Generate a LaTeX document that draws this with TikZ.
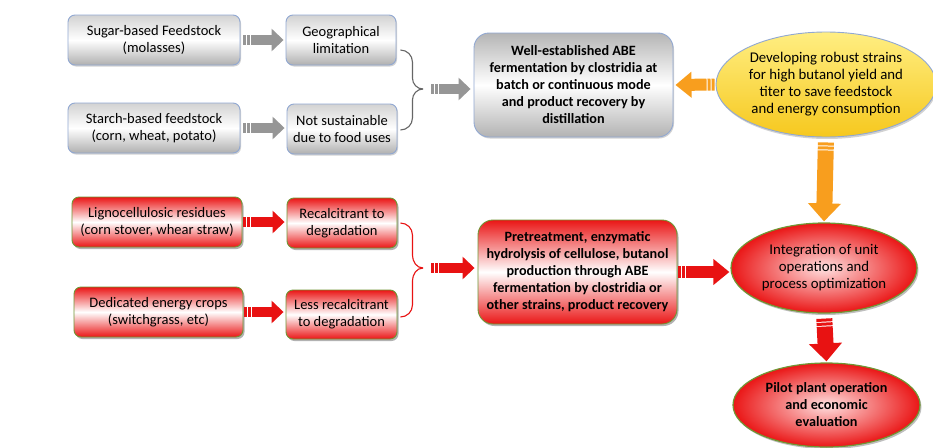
\documentclass[tikz,border=0pt]{standalone}
\usepackage{fontspec}
\setmainfont{Carlito}
\usetikzlibrary{arrows.meta,shapes.geometric,shadows,calc}

\definecolor{boxblue}{RGB}{145,168,210}
\definecolor{boxgreen}{RGB}{112,150,52}
\definecolor{redfill}{RGB}{234,22,22}
\definecolor{yellowtop}{RGB}{255,238,130}
\definecolor{yellowbot}{RGB}{246,200,30}
\definecolor{arrowgrey}{RGB}{150,150,150}
\definecolor{arroworange}{RGB}{248,158,30}
\definecolor{arrowred}{RGB}{232,18,18}

\begin{document}
\begin{tikzpicture}[
    x=1pt, y=1pt,
    % box styles
    greybox/.style={
        draw=boxblue,
        line width=0.9pt,
        rounded corners=7pt,
        top color=gray!35,
        bottom color=gray!62,
        middle color=white,
        align=center,
        inner sep=0pt,
        font=\fontsize{14.5}{17}\selectfont,
        drop shadow={shadow xshift=1pt, shadow yshift=-1.5pt, opacity=0.35}
    },
    redbox/.style={
        draw=boxgreen,
        line width=0.9pt,
        rounded corners=7pt,
        top color=redfill,
        bottom color=redfill,
        middle color=white,
        align=center,
        inner sep=0pt,
        font=\fontsize{14.5}{17}\selectfont,
        drop shadow={shadow xshift=1.5pt, shadow yshift=-2pt, opacity=0.6}
    },
    bigbox/.style={rounded corners=15pt, font=\bfseries\fontsize{14.2}{17}\selectfont},
    yellowoval/.style={
        ellipse,
        draw=boxblue,
        line width=0.9pt,
        top color=yellowtop,
        bottom color=yellowbot,
        align=center,
        inner sep=0pt,
        font=\fontsize{14.8}{17}\selectfont,
        drop shadow={shadow xshift=1pt, shadow yshift=-2pt, opacity=0.35}
    },
    redoval/.style={
        ellipse,
        draw=boxgreen,
        line width=1.2pt,
        inner color=red!12,
        outer color=redfill,
        align=center,
        inner sep=0pt,
        font=\bfseries\fontsize{14.2}{17}\selectfont,
        drop shadow={shadow xshift=1.5pt, shadow yshift=-2pt, opacity=0.5}
    },
    % block arrow styles
    arrowS/.style={line width=10pt, -{Triangle[width=22pt,length=12pt]},
        dash pattern=on 3pt off 1pt on 3pt off 1pt on 500pt},
    arrowM/.style={line width=12pt, -{Triangle[width=25pt,length=16pt]},
        dash pattern=on 3pt off 1pt on 3pt off 1pt on 500pt},
    arrowL/.style={line width=16pt, -{Triangle[width=32pt,length=18pt]},
        dash pattern=on 3pt off 1pt on 3pt off 1pt on 500pt},
    brace/.style={line width=1.1pt}
    ]

    \path[use as bounding box, fill=white] (0,0) rectangle (933,-447);

    % first generation feedstocks (grey)
    \node[greybox, minimum width=172pt, minimum height=50pt] (sugar) at (154,-40) {Sugar-based Feedstock\\(molasses)};
    \node[greybox, minimum width=110pt, minimum height=50pt] (geo) at (341,-40) {Geographical\\limitation};
    \node[greybox, minimum width=172pt, minimum height=50pt] (starch) at (154,-128) {Starch-based feedstock\\(corn, wheat, potato)};
    \node[greybox, minimum width=110pt, minimum height=50pt] (food) at (342,-129) {Not sustainable\\due to food uses};
    \node[greybox, bigbox, top color=gray!58, bottom color=gray!60, middle color=white,
        minimum width=199pt, minimum height=104pt] (abe) at (573.5,-85)
        {Well-established ABE\\fermentation by clostridia at\\batch or continuous mode\\and product recovery by\\distillation};
    \node[yellowoval, minimum width=220pt, minimum height=105pt] (strain) at (826,-84.5)
        {Developing robust strains\\for high butanol yield and\\titer to save feedstock\\and energy consumption};

    % lignocellulosic feedstocks (red)
    \node[redbox, minimum width=170pt, minimum height=50pt] (ligno) at (157,-222) {Lignocellulosic residues\\(corn stover, whear straw)};
    \node[redbox, minimum width=110pt, minimum height=50pt] (recal) at (342,-223) {Recalcitrant to\\degradation};
    \node[redbox, minimum width=169pt, minimum height=50pt] (crops) at (158.5,-312) {Dedicated energy crops\\(switchgrass, etc)};
    \node[redbox, minimum width=111pt, minimum height=49pt] (less) at (341.5,-314.5) {Less recalcitrant\\to degradation};
    \node[redbox, bigbox, minimum width=199pt, minimum height=104pt] (pretreat) at (577.5,-272)
        {Pretreatment, enzymatic\\hydrolysis of cellulose, butanol\\production through ABE\\fermentation by clostridia or\\other strains, product recovery};
    \node[redoval, font=\fontsize{14.8}{17}\selectfont, minimum width=186pt, minimum height=90pt] (integ) at (824,-268)
        {Integration of unit\\operations and\\process optimization};
    \node[redoval, minimum width=187pt, minimum height=84pt] (pilot) at (826.5,-405)
        {Pilot plant operation\\and economic\\evaluation};

    % junctions of the braces
    \coordinate (gj) at (423,-89);
    \coordinate (rj) at (423,-268);

    % grey arrows
    \draw[arrowS, draw=arrowgrey, shorten <=3pt, shorten >=2pt] (sugar.east) -- (geo.west);
    \draw[arrowS, draw=arrowgrey, shorten <=3pt, shorten >=2pt] (starch.east) -- (starch.east -| food.west);
    \draw[brace, draw=gray!80!black] ([shift={(4,-10)}]geo.east) to[out=0,in=90] ++(12,-12) -- ++(0,-16) to[out=-90,in=180] (gj);
    \draw[brace, draw=gray!80!black] ([shift={(3,-1)}]food.east) to[out=0,in=-90] ++(12,12) -- ++(0,18) to[out=90,in=180] (gj);
    \draw[arrowS, draw=arrowgrey, shorten <=8pt, shorten >=3pt] (gj) -- (gj -| abe.west);

    % orange arrows
    \draw[arrowM, draw=arroworange, shorten <=1pt, shorten >=2pt] (strain.west) -- (abe.east);
    \draw[arrowL, draw=arroworange, shorten <=5pt, shorten >=1pt] (strain.south) -- (integ.north);

    % red arrows
    \draw[arrowS, draw=arrowred, shorten <=1pt, shorten >=2pt] (ligno.east) -- (ligno.east -| recal.west);
    \draw[arrowS, draw=arrowred, shorten <=1pt, shorten >=2pt] (crops.east) -- (crops.east -| less.west);
    \draw[brace, draw=arrowred] ([shift={(3,0)}]recal.east) to[out=0,in=90] ++(12,-12) -- ++(0,-20) to[out=-90,in=180] (rj);
    \draw[brace, draw=arrowred] ([shift={(3,-2.5)}]less.east) to[out=0,in=-90] ++(12,12) -- ++(0,24) to[out=90,in=180] (rj);
    \draw[arrowS, draw=arrowred, shorten <=8pt, shorten >=3pt] (rj) -- (rj -| pretreat.west);
    \draw[arrowM, draw=arrowred, shorten <=1pt, shorten >=1pt] (pretreat.east) -- (pretreat.east -| integ.west);
    \draw[arrowL, draw=arrowred, shorten <=5pt, shorten >=1pt] (integ.south) -- (pilot.north);

\end{tikzpicture}
\end{document}
